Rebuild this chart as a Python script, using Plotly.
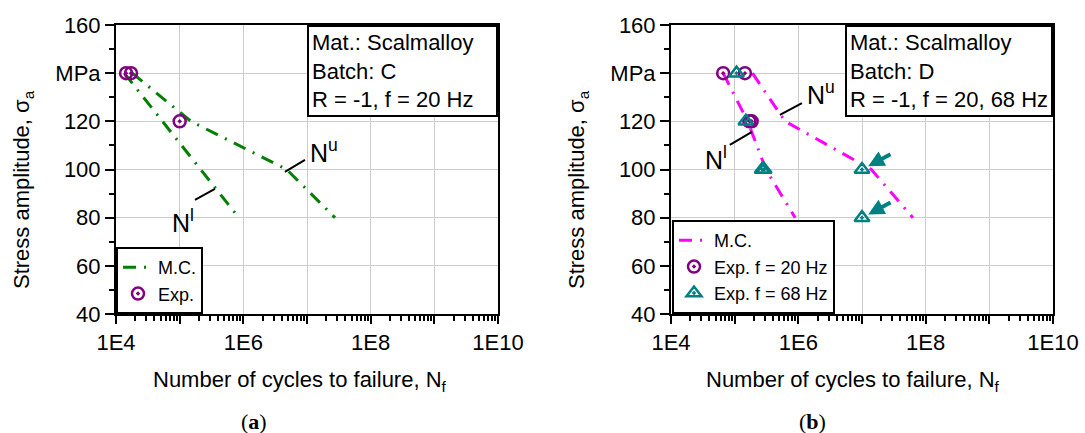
import numpy as np
import plotly.graph_objects as go

# ---------------- data ----------------
stress_levels = [140, 120, 100, 80]

# Panel (a): Batch C
a_mc_upper_n = [1.8e4, 1.5e5, 4.8e6, 2.75e7]
a_mc_lower_n = [1.35e4, 5.4e4, 2.1e5, 8.5e5]
a_exp_n = [1.44e4, 1.72e4, 1.0e5]
a_exp_s = [140, 140, 120]

# Panel (b): Batch D
b_mc_upper_n = [1.9e5, 6.2e5, 1.4e7, 6.3e7]
b_mc_lower_n = [6.6e4, 1.6e5, 3.1e5, 8.9e5]
b_exp20_n = [6.6e4, 1.45e5, 1.7e5, 1.85e5]
b_exp20_s = [140, 140, 120, 120]
b_exp68_n = [1.07e5, 1.5e5, 2.7e5, 2.9e5, 1e7, 1e7]
b_exp68_s = [140, 120, 100, 100, 100, 80]
# run-outs (arrows) of panel (b)
b_runout_n = [1e7, 1e7]
b_runout_s = [100, 80]

x_tickvals = [1e4, 1e5, 1e6, 1e7, 1e8, 1e9, 1e10]
x_ticktext = ["1E4", "", "1E6", "", "1E8", "", "1E10"]
y_tickvals = [40, 60, 80, 100, 120, 140, 160]
y_ticktext = ["40", "60", "80", "100", "120", "MPa", "160"]

# ---------------- styling ----------------
W, H = 1085, 433
FONT = "Liberation Sans, Arial, sans-serif"
SERIF = "Liberation Serif, DejaVu Serif, serif"
GREEN = "#008000"
MAGENTA = "#FF00FF"
PURPLE = "#800080"
TEAL = "#008080"
DASH = "13px,8px,2px,8px"


def px_x(p):
    return p / W


def px_y(p):
    return (H - p) / H


fig = go.Figure()


def joined(up, lo):
    return up + [None] + lo, stress_levels + [None] + stress_levels


circle_marker = dict(symbol="circle-open-dot", size=12, color=PURPLE,
                     line=dict(width=2.5, color=PURPLE))
tri_marker = dict(symbol="triangle-up-open-dot", size=13, color=TEAL,
                  line=dict(width=2.5, color=TEAL))

# panel (a)
xa, ya = joined(a_mc_upper_n, a_mc_lower_n)
fig.add_trace(go.Scatter(x=xa, y=ya, mode="lines", name="M.C.",
                         line=dict(color=GREEN, width=3, dash=DASH),
                         xaxis="x", yaxis="y", legend="legend"))
fig.add_trace(go.Scatter(x=a_exp_n, y=a_exp_s, mode="markers", name="Exp.",
                         marker=circle_marker, xaxis="x", yaxis="y", legend="legend"))

# panel (b)
xb, yb = joined(b_mc_upper_n, b_mc_lower_n)
fig.add_trace(go.Scatter(x=xb, y=yb, mode="lines", name="M.C.",
                         line=dict(color=MAGENTA, width=3, dash=DASH),
                         xaxis="x2", yaxis="y2", legend="legend2"))
fig.add_trace(go.Scatter(x=b_exp20_n, y=b_exp20_s, mode="markers", name="Exp. f = 20 Hz",
                         marker=circle_marker, xaxis="x2", yaxis="y2", legend="legend2"))
fig.add_trace(go.Scatter(x=b_exp68_n, y=b_exp68_s, mode="markers", name="Exp. f = 68 Hz",
                         marker=tri_marker, xaxis="x2", yaxis="y2", legend="legend2"))

# leader lines for N^u / N^l labels
leaders = [
    ("x", "y", [4.5e6, 9.3e6], [99.0, 104.0]),
    ("x", "y", [1.74e5, 3.58e5], [87.4, 92.0]),
    ("x2", "y2", [5.14e5, 1.14e6], [122.7, 127.6]),
    ("x2", "y2", [8.4e4, 1.87e5], [110.2, 115.6]),
]
for xr, yr, lx, ly in leaders:
    fig.add_trace(go.Scatter(x=lx, y=ly, mode="lines", showlegend=False,
                             line=dict(color="black", width=2), hoverinfo="skip",
                             xaxis=xr, yaxis=yr))

minor_vals = [k * 10 ** d for d in range(4, 10) for k in range(2, 10)]

xcommon = dict(type="log", range=[4, 10], tickmode="array", tickvals=x_tickvals,
               ticktext=x_ticktext, ticks="outside", ticklen=8, tickwidth=2,
               tickcolor="black", showline=True, linewidth=2, linecolor="black",
               mirror=True, showgrid=True, gridcolor="#cccccc", gridwidth=1,
               zeroline=False, automargin=False,
               tickfont=dict(size=22, family=FONT, color="black"),
               minor=dict(tickmode="array", tickvals=minor_vals, ticks="outside",
                          ticklen=5, tickwidth=1.5, tickcolor="black", showgrid=False))
ycommon = dict(range=[40, 160], tickmode="array", tickvals=y_tickvals,
               ticktext=y_ticktext, ticks="outside", ticklen=9, tickwidth=2,
               tickcolor="black", showline=True, linewidth=2, linecolor="black",
               mirror=True, showgrid=True, gridcolor="#cccccc", gridwidth=1,
               zeroline=False, automargin=False,
               tickfont=dict(size=22, family=FONT, color="black"),
               minor=dict(tickmode="linear", tick0=40, dtick=10, ticks="outside",
                          ticklen=5, tickwidth=1.5, tickcolor="black", showgrid=False))

ytop, ybot = px_y(25), px_y(314)
legend_common = dict(xanchor="left", yanchor="bottom", bordercolor="black", borderwidth=2,
                     bgcolor="white", font=dict(size=18, family=FONT, color="black"),
                     tracegroupgap=0)
fig.update_layout(
    width=W, height=H, autosize=False,
    margin=dict(l=0, r=0, t=0, b=0, autoexpand=False),
    paper_bgcolor="white", plot_bgcolor="white",
    font=dict(family=FONT, size=22, color="black"),
    xaxis=dict(domain=[px_x(116), px_x(498)], anchor="y", **xcommon),
    yaxis=dict(domain=[ybot, ytop], anchor="x", **ycommon),
    xaxis2=dict(domain=[px_x(671), px_x(1053)], anchor="y2", **xcommon),
    yaxis2=dict(domain=[ybot, ytop], anchor="x2", **ycommon),
    legend=dict(x=px_x(116), y=px_y(314), **legend_common),
    legend2=dict(x=px_x(672), y=px_y(314), **legend_common),
    showlegend=True,
)

ann = []
# info boxes
ann.append(dict(xref="paper", yref="paper", x=px_x(498), y=px_y(25), xanchor="right",
                yanchor="top", align="left", showarrow=False, width=181,
                text="Mat.: Scalmalloy<br>Batch: C<br>R = -1, f = 20 Hz",
                bordercolor="black", borderwidth=2, borderpad=3, bgcolor="white",
                font=dict(size=22, family=FONT, color="black")))
ann.append(dict(xref="paper", yref="paper", x=px_x(1053), y=px_y(25), xanchor="right",
                yanchor="top", align="left", showarrow=False, width=198,
                text="Mat.: Scalmalloy<br>Batch: D<br>R = -1, f = 20, 68 Hz",
                bordercolor="black", borderwidth=2, borderpad=3, bgcolor="white",
                font=dict(size=22, family=FONT, color="black")))
# N labels
for xr, yr, lx, ly, t in [("x", "y", 7.014, 107.7, "N<sup>u</sup>"),
                          ("x", "y", 4.848, 78.7, "N<sup>l</sup>"),
                          ("x2", "y2", 6.104, 131.8, "N<sup>u</sup>"),
                          ("x2", "y2", 4.502, 104.8, "N<sup>l</sup>")]:
    ann.append(dict(xref=xr, yref=yr, x=lx, y=ly, xanchor="left", yanchor="middle",
                    showarrow=False, text=t, font=dict(size=25, family=FONT, color="black")))
# run-out arrows (head at the point, shaft towards upper right)
for n, s in zip(b_runout_n, b_runout_s):
    ann.append(dict(xref="x2", yref="y2", x=np.log10(n), y=s,
                    ax=30, ay=-16, text="", showarrow=True, arrowhead=2,
                    arrowsize=0.8, arrowwidth=4, arrowcolor=TEAL, standoff=7))
# axis titles
for xc in (23, 578):
    ann.append(dict(xref="paper", yref="paper", x=px_x(xc), y=px_y(190), textangle=-90,
                    showarrow=False, xanchor="center", yanchor="middle",
                    text="Stress amplitude, σ<sub>a</sub>",
                    font=dict(size=22, family=FONT, color="black")))
for xc in (300, 853):
    ann.append(dict(xref="paper", yref="paper", x=px_x(xc), y=px_y(381),
                    showarrow=False, xanchor="center", yanchor="middle",
                    text="Number of cycles to failure, N<sub>f</sub>",
                    font=dict(size=22, family=FONT, color="black")))
# panel labels
for xc, lab in ((254, "a"), (812, "b")):
    ann.append(dict(xref="paper", yref="paper", x=px_x(xc), y=px_y(421),
                    showarrow=False, xanchor="center", yanchor="middle",
                    text="(<b>" + lab + "</b>)",
                    font=dict(size=22, family=SERIF, color="black")))
fig.update_layout(annotations=ann)

fig.write_html("out.html", config={"displayModeBar": False},
               post_script="document.body.style.margin='0';")
